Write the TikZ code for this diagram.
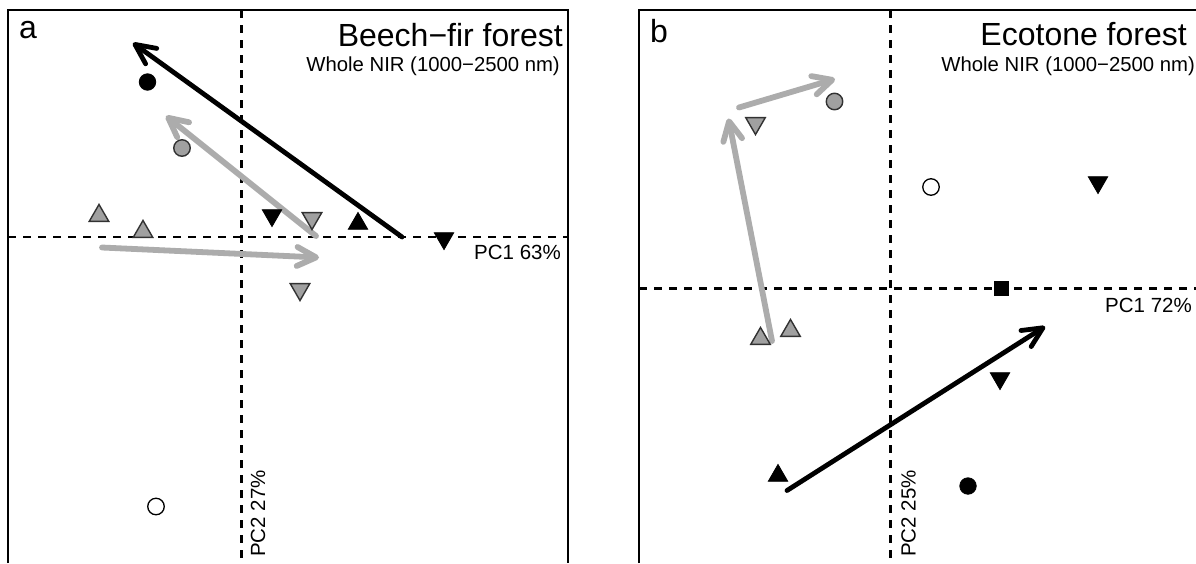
\documentclass[tikz,border=0pt]{standalone}
\usepackage{fontspec}
\setmainfont{Liberation Sans}
\usetikzlibrary{arrows.meta,shapes.geometric}
\definecolor{arrowgray}{RGB}{172,172,172}
\definecolor{markgray}{RGB}{160,160,160}
\definecolor{markedge}{RGB}{50,50,50}
\begin{document}
\begin{tikzpicture}[x=1pt,y=-1pt,
  frame/.style={line width=2.3pt,black},
  axisline/.style={line width=2.2pt,dash pattern=on 8pt off 7pt},
  blackarrow/.style={line width=4.8pt,line cap=round,-{Straight Barb[length=20pt,width=19pt,round]}},
  grayarrow/.style={line width=5.8pt,arrowgray,line cap=round,-{Straight Barb[length=19pt,width=19pt,round]}},
  tri/.style={regular polygon,regular polygon sides=3,minimum size=22.5pt,inner sep=0pt,outer sep=0pt},
  triup/.style={tri,yshift=-2.7pt},
  tridown/.style={tri,shape border rotate=180,yshift=2.7pt},
  blk/.style={fill=black,draw=black,line width=0.8pt},
  gry/.style={fill=markgray,draw=markedge,line width=1.4pt},
  dot/.style={circle,minimum size=16.5pt,inner sep=0pt},
  opendot/.style={circle,minimum size=16.5pt,inner sep=0pt,draw=black,line width=1.3pt,fill=white},
  sq/.style={rectangle,minimum size=15.5pt,inner sep=0pt,fill=black},
  paneltag/.style={inner sep=0pt,anchor=base west,font=\fontsize{32pt}{36pt}\selectfont},
  titletext/.style={inner sep=0pt,anchor=base east,font=\fontsize{32pt}{36pt}\selectfont},
  subtext/.style={inner sep=0pt,anchor=base east,font=\fontsize{20.3pt}{24pt}\selectfont},
  axislabel/.style={inner sep=0pt,anchor=base east,font=\fontsize{20.5pt}{24pt}\selectfont},
  pclabel/.style={inner sep=0pt,anchor=base west,rotate=90,font=\fontsize{20.5pt}{24pt}\selectfont}
]
\useasboundingbox[fill=white] (0,0) rectangle (1196,563);

% ---------- panel a ----------
\draw[frame] (8,563) -- (8,10) -- (568,10) -- (568,563);
\draw[axisline] (8,237) -- (568,237);
\draw[axisline] (241.5,10) -- (241.5,563);
\node[paneltag] (taga) at (19,38) {a};
\node[titletext] (titlea) at (563,46) {Beech−fir forest};
\node[subtext] (suba) at (560,71) {Whole NIR (1000−2500 nm)};
\node[axislabel] (pc1a) at (561,259) {PC1 63\%};
\node[pclabel] (pc2a) at (265,557) {PC2 27\%};

\coordinate (a1s) at (402,237);
\coordinate (a1e) at (133,43);
\coordinate (a2s) at (316,236);
\coordinate (a2e) at (166,116);
\coordinate (a3s) at (102,247.5);
\coordinate (a3e) at (319,257.5);
\draw[grayarrow] (a2s) -- (a2e);
\draw[grayarrow] (a3s) -- (a3e);
\draw[blackarrow] (a1s) -- (a1e);

\node[dot,blk] (ma1) at (147.5,82) {};
\node[dot,gry] (ma2) at (182,148) {};
\node[triup,gry] (ma3) at (99,213) {};
\node[triup,gry] (ma4) at (143,229) {};
\node[tridown,blk] (ma5) at (272,218) {};
\node[tridown,gry] (ma6) at (312,221) {};
\node[triup,blk] (ma7) at (358,221) {};
\node[tridown,blk] (ma8) at (444,241) {};
\node[tridown,gry] (ma9) at (300,292) {};
\node[opendot] (ma10) at (156,506.5) {};

% ---------- panel b ----------
\draw[frame] (639,563) -- (639,10) -- (1196,10);
\draw[axisline] (639,288.5) -- (1196,288.5);
\draw[axisline] (890.5,10) -- (890.5,563);
\node[paneltag] (tagb) at (650,42.5) {b};
\node[titletext] (titleb) at (1187,45) {Ecotone forest};
\node[subtext] (subb) at (1195,71) {Whole NIR (1000−2500 nm)};
\node[axislabel] (pc1b) at (1192,312) {PC1 72\%};
\node[pclabel] (pc2b) at (915.5,557) {PC2 25\%};

\coordinate (b1s) at (772,341);
\coordinate (b1e) at (728.5,118.5);
\coordinate (b2s) at (739,107.5);
\coordinate (b2e) at (835,79);
\coordinate (b3s) at (787,490.5);
\coordinate (b3e) at (1045,326.5);
\draw[grayarrow] (b1s) -- (b1e);
\draw[grayarrow] (b2s) -- (b2e);
\draw[blackarrow] (b3s) -- (b3e);

\node[tridown,gry] (mb1) at (755.5,126) {};
\node[dot,gry] (mb2) at (834.5,101.5) {};
\node[opendot] (mb3) at (931,187) {};
\node[tridown,blk] (mb4) at (1098,185) {};
\node[sq] (mb5) at (1001.5,288.5) {};
\node[triup,gry] (mb6) at (760.5,336) {};
\node[triup,gry] (mb7) at (790.5,328) {};
\node[triup,blk] (mb8) at (778,473) {};
\node[tridown,blk] (mb9) at (1000,381) {};
\node[dot,blk] (mb10) at (968,486) {};
\end{tikzpicture}
\end{document}
